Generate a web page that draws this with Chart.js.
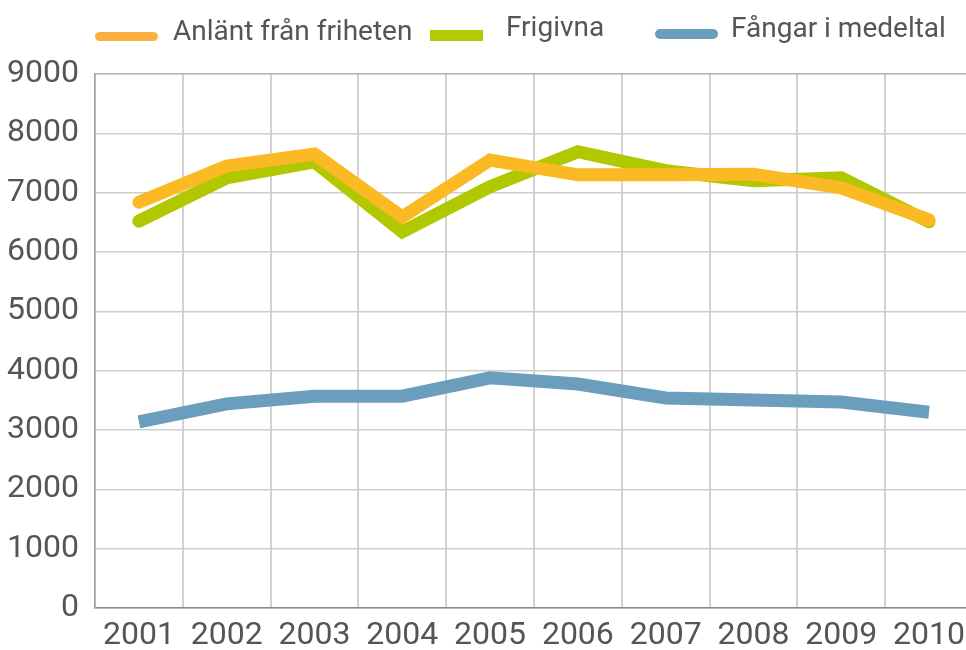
<!DOCTYPE html>
<html>
<head>
<meta charset="utf-8">
<script src="https://cdn.jsdelivr.net/npm/chart.js@4/dist/chart.umd.min.js"></script>
<style>
    html, body { margin: 0; padding: 0; background: #fff; }
    #wrap { position: relative; width: 966px; height: 650px; overflow: hidden; }
    #box { position: absolute; left: 0; top: 0; width: 974px; height: 650px; }
    .lg { position: absolute; font-family: Roboto, sans-serif; font-size: 28px; color: #555; white-space: nowrap; line-height: 1; }
    .sw { position: absolute; }
</style>
</head>
<body>
<div id="wrap">
    <div id="box"><canvas id="mainChart"></canvas></div>
</div>
<script>
'use strict';

const years = ['2001', '2002', '2003', '2004', '2005', '2006', '2007', '2008', '2009', '2010'];
const seriesNames = ['Anlänt från friheten', 'Frigivna', 'Fångar i medeltal'];
const anlant   = [6840, 7450, 7650, 6590, 7550, 7300, 7300, 7310, 7080, 6540];
const frigivna = [6520, 7250, 7520, 6340, 7100, 7690, 7370, 7200, 7250, 6510];
const fangar   = [3135, 3440, 3570, 3570, 3880, 3775, 3540, 3505, 3470, 3300];
const yTicks   = [0, 1000, 2000, 3000, 4000, 5000, 6000, 7000, 8000, 9000];

// line colours and legend swatches (legend orange is a bit lighter in the original)
const STYLES = [
    { line: '#fbb924', swatch: '#fdb041', cap: 'round', sw: { x: 95,  y: 32, w: 63, h: 9, r: 5 }, tx: { x: 173, y: 17 } },
    { line: '#b1c800', swatch: '#b3c900', cap: 'round', sw: { x: 430, y: 30, w: 53, h: 11, r: 0 }, tx: { x: 506, y: 13 } },
    { line: '#6b9ebd', swatch: '#6b9ebd', cap: 'butt',  sw: { x: 655, y: 29, w: 63, h: 10, r: 5 }, tx: { x: 731, y: 14 } },
];

const values = [anlant, frigivna, fangar];

// html legend, laid out like the source picture
const wrap = document.getElementById('wrap');
seriesNames.forEach((name, i) => {
    const s = STYLES[i];
    const sw = document.createElement('div');
    sw.className = 'sw';
    sw.style.cssText = `left:${s.sw.x}px;top:${s.sw.y}px;width:${s.sw.w}px;height:${s.sw.h}px;border-radius:${s.sw.r}px;background:${s.swatch}`;
    wrap.appendChild(sw);
    const tx = document.createElement('div');
    tx.className = 'lg';
    tx.style.left = s.tx.x + 'px';
    tx.style.top = s.tx.y + 'px';
    tx.textContent = name;
    wrap.appendChild(tx);
});

const tickFont = { family: 'Roboto, sans-serif', size: 32 };

new Chart(document.getElementById('mainChart'), {
    type: 'line',
    data: {
        labels: years,
        datasets: seriesNames.map((name, i) => ({
            label: name,
            data: values[i],
            borderColor: STYLES[i].line,
            backgroundColor: STYLES[i].line,
            borderWidth: 13,
            borderCapStyle: STYLES[i].cap,
            borderJoinStyle: 'miter',
            pointRadius: 0,
            tension: 0,
            fill: false,
            order: i,
        })),
    },
    options: {
        responsive: true,
        maintainAspectRatio: false,
        animation: false,
        layout: { padding: { top: 74, left: 0, right: 0, bottom: 0 } },
        plugins: { legend: { display: false }, tooltip: { enabled: false } },
        scales: {
            x: {
                offset: true,
                grid: { offset: true, color: '#d2d2d2', lineWidth: 2, drawTicks: false },
                border: { color: '#8c8c8c', width: 1.5 },
                ticks: { color: '#555', font: tickFont, padding: 9, maxRotation: 0, autoSkip: false },
                afterFit: s => { s.height = 42; },
            },
            y: {
                min: 0,
                max: 9000,
                afterBuildTicks: s => { s.ticks = yTicks.map(v => ({ value: v })); },
                grid: {
                    color: c => c.tick && c.tick.value === 9000 ? '#b0b0b0' : '#cdcdcd',
                    lineWidth: 1.5,
                    drawTicks: false,
                },
                border: { color: '#a0a0a0', width: 1.5 },
                ticks: { color: '#555', font: tickFont, padding: 16, callback: v => String(v) },
                afterFit: s => { s.width = 95; },
            },
        },
    },
});
</script>
</body>
</html>
